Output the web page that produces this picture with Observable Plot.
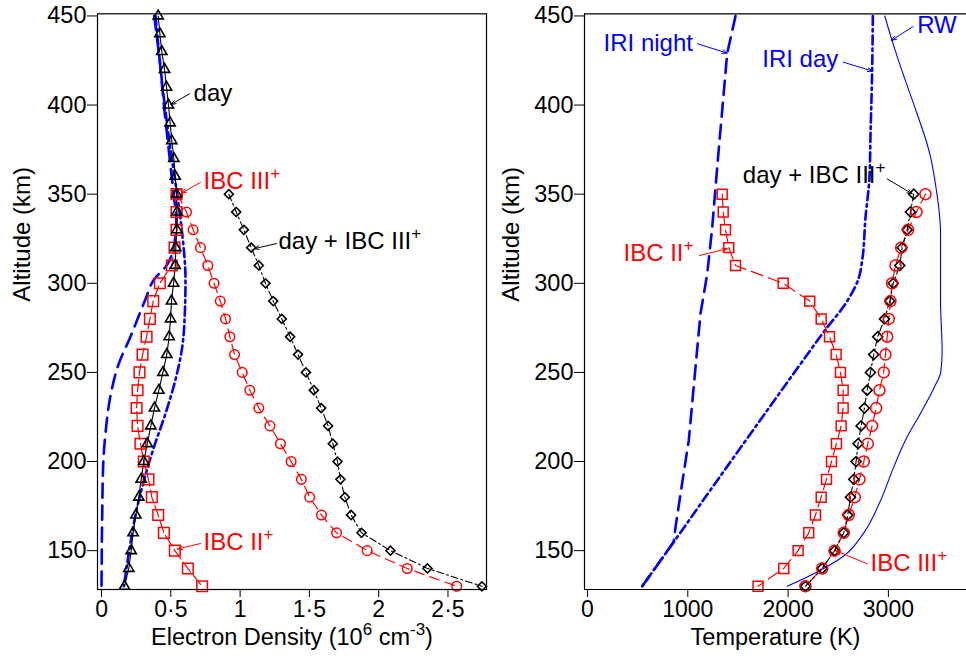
<!DOCTYPE html>
<html><head><meta charset="utf-8">
<script src="https://cdn.jsdelivr.net/npm/d3@7"></script>
<script src="https://cdn.jsdelivr.net/npm/@observablehq/plot@0.6"></script>
<style>
body{margin:0;background:#fff;}
#wrap{position:relative;width:966px;height:660px;overflow:hidden;background:#fff;}
#left,#right{position:absolute;top:0;}
#left{left:0px}
#right{left:490px}
</style></head><body><div id="wrap"><div id="left"></div><div id="right"></div></div>
<script>
// ---------- DATA ----------
const altDay = [450,440,430,420,410,400,390,380,370,360,350,340,330,320,310,300,290,280,270,260,250,240,230,220,210,200,190,180,170,160,150,140,130];
const neDay = [0.409,0.421,0.435,0.455,0.469,0.483,0.495,0.507,0.522,0.532,0.541,0.544,0.544,0.536,0.532,0.52,0.505,0.498,0.488,0.471,0.443,0.414,0.382,0.356,0.330,0.305,0.286,0.269,0.248,0.228,0.214,0.197,0.166];

const altIBC = [350,340,330,320,310,300,290,280,270,260,250,240,230,220,210,200,190,180,170,160,150,140,130];
const neIBC2 = [0.541,0.541,0.541,0.527,0.507,0.421,0.373,0.349,0.325,0.296,0.274,0.260,0.253,0.260,0.281,0.305,0.339,0.363,0.409,0.450,0.529,0.623,0.726];
const neIBC3 = [0.55,0.613,0.661,0.714,0.767,0.812,0.857,0.895,0.926,0.960,1.015,1.070,1.135,1.215,1.291,1.368,1.442,1.502,1.587,1.696,1.917,2.206,2.563];
const neDayIBC3 = [0.919,0.972,1.027,1.080,1.135,1.183,1.239,1.301,1.361,1.418,1.475,1.532,1.585,1.635,1.669,1.703,1.724,1.756,1.801,1.876,2.085,2.352,2.745];

const altIriNightNe = [450,425,400,375,350,335,320,310,302,291,280,270,255,237,216,198,170,130];
const neIriNight = [0.38,0.42,0.45,0.485,0.52,0.54,0.52,0.47,0.378,0.317,0.26,0.209,0.125,0.065,0.029,0.012,0.005,0.0];
const altIriDayNe = [450,412,375,347,328,302,283,264,246,227,208,189,170,152,130];
const neIriDay = [0.39,0.438,0.498,0.551,0.582,0.606,0.601,0.582,0.534,0.462,0.378,0.305,0.245,0.204,0.161];

const teIBC2 = [1343,1353,1376,1409,1476,1951,2216,2330,2413,2479,2522,2549,2549,2529,2482,2433,2383,2330,2273,2206,2100,1957,1700];
const teIBC3 = [3370,3280,3197,3127,3071,3037,3021,3004,2988,2971,2954,2911,2878,2838,2795,2755,2712,2665,2605,2555,2463,2340,2173];
const teDayIBC3 = [3253,3220,3187,3137,3114,3048,3014,2961,2894,2854,2821,2788,2761,2728,2698,2678,2655,2622,2595,2555,2463,2340,2173];

const altIriNightT = [450,429,397,365,331,305,283,253,212,188,163,155,145,130];
const teIriNight = [1476,1393,1343,1293,1243,1193,1127,1077,1010,944,877,860,735,545];
const altIriDayT = [450,419,384,360,337,313,303,290,272,256,240,225,212,197,176,160,145,130];
const teIriDay = [2845,2838,2822,2812,2772,2739,2705,2589,2345,2140,1935,1745,1580,1390,1125,925,735,545];
const altRW = [450,436,419,395,378,371,358,328,290,262,250,242,227,212,197,178,160,147,139,130];
const teRW = [2964,3038,3137,3287,3387,3420,3463,3520,3520,3536,3522,3460,3320,3170,3054,2921,2755,2555,2323,1991];

const altTicks = [150,200,250,300,350,400,450];
const neTicks = [0,0.5,1,1.5,2,2.5];
const teTicks = [0,1000,2000,3000];

// annotations: [text, x, y, anchor, colour]
const leftLabels = [
  ["day", 0.664, 406.5, "start", "black"],
  ["IBC III^{+}", 0.736, 357, "start", "red"],
  ["day + IBC III^{+}", 1.277, 323.4, "start", "black"],
  ["IBC II^{+}", 0.736, 154.5, "start", "red"]
];
const leftArrows = [
  [0.635, 406.3, 0.50, 400.3, "black"],
  [0.714, 356.6, 0.577, 350.6, "red"],
  [1.263, 322.3, 1.100, 319.4, "black"],
  [0.714, 154.0, 0.548, 150.9, "red"]
];
const rightLabels = [
  ["IRI night", 160, 434.6, "start", "blue"],
  ["IRI day", 1742, 425.6, "start", "blue"],
  ["RW", 3287, 444.7, "start", "blue"],
  ["day + IBC III^{+}", 2971, 360.5, "end", "black"],
  ["IBC II^{+}", 359, 316.7, "start", "red"],
  ["IBC III^{+}", 2822, 143, "start", "red"]
];
const rightArrows = [
  [1097, 434.4, 1393, 429.1, "blue"],
  [2549, 424.1, 2844, 419.0, "blue"],
  [3247, 444.1, 3031, 436.3, "blue"],
  [2988, 358.6, 3237, 350.2, "black"],
  [1117, 315.6, 1393, 319.4, "red"],
  [2789, 142.6, 2473, 150.0, "red"]
];

// ---------- BUILD ----------
const zip = (xs, ys) => xs.map((x, i) => ({x, y: ys[i]}));
const FONT = "'Liberation Sans', Arial, Helvetica, sans-serif";
const yDomain = [128.2, 451.2];

function annot(labels, arrows) {
  const L = labels.map(([t, x, y, a, c]) => ({t, x, y, a, c}));
  const A = arrows.map(([x1, y1, x2, y2, c]) => ({x1, y1, x2, y2, c}));
  return [
    Plot.arrow(A, {x1: "x1", y1: "y1", x2: "x2", y2: "y2", stroke: d => d.c, strokeWidth: 1, headLength: 8, headAngle: 40}),
    ...["start", "end"].map(anchor => Plot.text(L.filter(d => d.a === anchor), {x: "x", y: "y", text: "t", fill: d => d.c, textAnchor: anchor, fontSize: 24}))
  ];
}

const dayData = zip(neDay, altDay);
const ibc2 = zip(neIBC2, altIBC);
const ibc3 = zip(neIBC3, altIBC);
const dayIbc3 = zip(neDayIBC3, altIBC);

const left = Plot.plot({
  width: 490, height: 660,
  marginLeft: 97, marginRight: 4, marginTop: 13.3, marginBottom: 71,
  style: {fontFamily: FONT, fontSize: "23px", color: "black", background: "white", overflow: "visible"},
  x: {domain: [-0.029, 2.778]},
  y: {domain: yDomain},
  marks: [
    Plot.line(zip(neIriNight, altIriNightNe), {x: "x", y: "y", stroke: "blue", strokeWidth: 2.6, strokeDasharray: "14,8", curve: "monotone-y"}),
    Plot.line(zip(neIriDay, altIriDayNe), {x: "x", y: "y", stroke: "blue", strokeWidth: 2.6, strokeDasharray: "9,4,2.5,4", curve: "monotone-y"}),
    Plot.line(ibc2, {x: "x", y: "y", stroke: "red", strokeWidth: 1.2, strokeDasharray: "12,4"}),
    Plot.line(ibc3, {x: "x", y: "y", stroke: "red", strokeWidth: 1.2, strokeDasharray: "10,6"}),
    Plot.line(dayIbc3, {x: "x", y: "y", stroke: "black", strokeWidth: 1.1, strokeDasharray: "7,3,2,3"}),
    Plot.line(dayData, {x: "x", y: "y", stroke: "black", strokeWidth: 1.1}),
    Plot.dot(ibc2, {x: "x", y: "y", symbol: "square", r: 6, stroke: "red", strokeWidth: 1.5, fill: "none"}),
    Plot.dot(ibc3, {x: "x", y: "y", symbol: "circle", r: 4.8, stroke: "red", strokeWidth: 1.5, fill: "none"}),
    Plot.dot(dayIbc3, {x: "x", y: "y", symbol: "square", rotate: 45, r: 3.6, stroke: "black", strokeWidth: 1.6, fill: "none"}),
    Plot.dot(dayData, {x: "x", y: "y", symbol: "triangle", r: 3.8, stroke: "black", strokeWidth: 1.6, fill: "none"}),
    ...annot(leftLabels, leftArrows),
    Plot.frame({stroke: "black", strokeWidth: 1.2}),
    Plot.axisY({ticks: altTicks, tickSize: 10, tickPadding: 1, label: null, fontSize: 23.5}),
    Plot.axisX({ticks: neTicks, tickSize: 8, tickPadding: 3, label: null, fontSize: 23, tickFormat: d => String(d).replace(".", "\u00b7")}),
    Plot.text(["Altitude (km)"], {frameAnchor: "left", dx: -75, rotate: -90, fontSize: 24}),
    Plot.text(["Electron Density (10^{6} cm^{-3})"], {frameAnchor: "bottom", dy: 55, fontSize: 23.5})
  ]
});

const right = Plot.plot({
  width: 476, height: 660,
  marginLeft: 94, marginRight: 0, marginTop: 13.3, marginBottom: 71,
  style: {fontFamily: FONT, fontSize: "23px", color: "black", background: "white", overflow: "visible"},
  x: {domain: [-30, 3779]},
  y: {domain: yDomain},
  marks: [
    Plot.line(zip(teRW, altRW), {x: "x", y: "y", stroke: "blue", strokeWidth: 1.1, curve: "monotone-y"}),
    Plot.line(zip(teIriNight, altIriNightT), {x: "x", y: "y", stroke: "blue", strokeWidth: 2.6, strokeDasharray: "14,8"}),
    Plot.line(zip(teIriDay, altIriDayT), {x: "x", y: "y", stroke: "blue", strokeWidth: 2.6, strokeDasharray: "9,4,2.5,4", curve: "monotone-y"}),
    Plot.line(zip(teIBC2, altIBC), {x: "x", y: "y", stroke: "red", strokeWidth: 1.2, strokeDasharray: "12,6"}),
    Plot.line(zip(teIBC3, altIBC), {x: "x", y: "y", stroke: "red", strokeWidth: 1.2, strokeDasharray: "10,6"}),
    Plot.line(zip(teDayIBC3, altIBC), {x: "x", y: "y", stroke: "black", strokeWidth: 1.1, strokeDasharray: "7,3,2,3"}),
    Plot.dot(zip(teIBC2, altIBC), {x: "x", y: "y", symbol: "square", r: 5.6, stroke: "red", strokeWidth: 1.5, fill: "none"}),
    Plot.dot(zip(teDayIBC3, altIBC), {x: "x", y: "y", symbol: "square", rotate: 45, r: 4, stroke: "black", strokeWidth: 1.6, fill: "none"}),
    Plot.dot(zip(teIBC3, altIBC), {x: "x", y: "y", symbol: "circle", r: 5.5, stroke: "red", strokeWidth: 1.5, fill: "none"}),
    ...annot(rightLabels, rightArrows),
    Plot.ruleX([-30], {stroke: "black", strokeWidth: 1.2}),
    Plot.ruleY(yDomain, {stroke: "black", strokeWidth: 1.2}),
    Plot.axisY({ticks: altTicks, tickSize: 10, tickPadding: 1, label: null, fontSize: 23.5}),
    Plot.axisX({ticks: teTicks, tickSize: 8, tickPadding: 3, label: null, fontSize: 23, tickFormat: d => String(d)}),
    Plot.text(["Altitude (km)"], {frameAnchor: "left", dx: -73, rotate: -90, fontSize: 24}),
    Plot.text(["Temperature (K)"], {frameAnchor: "bottom", dy: 55, fontSize: 23.5})
  ]
});

// superscripts written as ^{...}
function supify(svg) {
  const ns = "http://www.w3.org/2000/svg";
  svg.querySelectorAll("text").forEach(t => {
    if (t.querySelector("tspan")) return;
    const s = t.textContent;
    if (!s.includes("^{")) return;
    const parts = s.split(/\^\{([^}]*)\}/);
    t.textContent = "";
    let off = 0;
    parts.forEach((p, i) => {
      if (!p) return;
      const ts = document.createElementNS(ns, "tspan");
      const target = i % 2 ? -10 : 0;
      if (target !== off) ts.setAttribute("dy", target - off);
      off = target;
      if (i % 2) ts.setAttribute("font-size", "17");
      ts.textContent = p;
      t.appendChild(ts);
    });
  });
}
supify(left); supify(right);
document.getElementById("left").appendChild(left);
document.getElementById("right").appendChild(right);
</script></body></html>
